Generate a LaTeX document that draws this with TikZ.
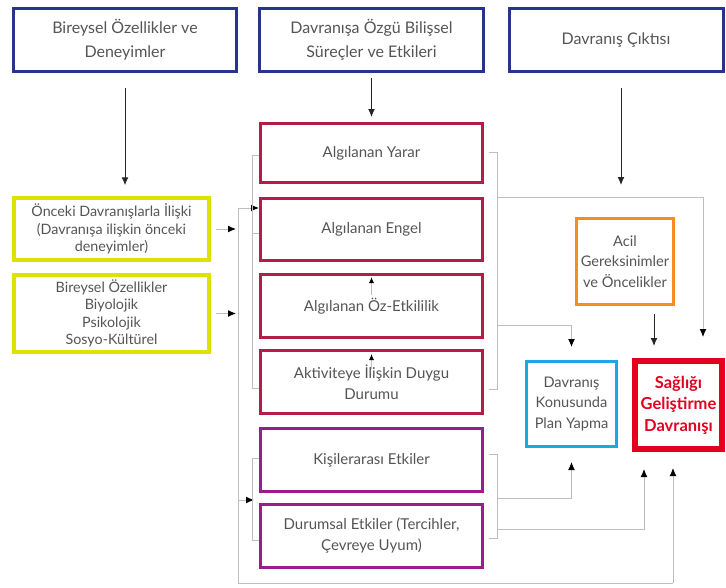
\documentclass[tikz,border=0pt]{standalone}
\usepackage{fontspec}
\setmainfont{Lato}
\usetikzlibrary{arrows.meta}
\definecolor{navy}{RGB}{40,52,140}
\definecolor{ylw}{RGB}{222,226,0}
\definecolor{crim}{RGB}{181,28,72}
\definecolor{purp}{RGB}{155,28,140}
\definecolor{orng}{RGB}{245,142,30}
\definecolor{lblue}{RGB}{30,165,230}
\definecolor{hred}{RGB}{226,0,30}
\definecolor{lgray}{RGB}{190,190,190}
\definecolor{txt}{RGB}{85,85,85}
\begin{document}
\begin{tikzpicture}[x=1pt,y=-1pt,
  box/.style={draw, rectangle, align=center, text=txt, inner sep=1pt},
  topbox/.style={box, draw=navy, line width=3pt, minimum height=63pt, font=\fontsize{16}{24}\selectfont},
  ybox/.style={box, draw=ylw, line width=3.5pt, minimum width=195pt, font=\fontsize{14.3}{17.5}\selectfont},
  rbox/.style={box, draw=crim, line width=3pt, minimum width=222pt, font=\fontsize{15}{21}\selectfont},
  pbox/.style={box, draw=purp, line width=3pt, minimum width=222pt, minimum height=63pt, font=\fontsize{15}{21}\selectfont},
  gline/.style={draw=lgray, line width=1pt},
  garr/.style={gline, -{Latex[length=8pt,width=7pt,color=black]}},
  sarr/.style={gline, -{Latex[length=6pt,width=5pt,color=black]}},
  barr/.style={draw=black!85, line width=1pt, -{Latex[length=8pt,width=7pt]}}]
\useasboundingbox (0,0) rectangle (726,587);
\fill[white] (0,0) rectangle (726,587);

% top boxes
\node[topbox, minimum width=223pt] (t1) at (125,40) {Bireysel Özellikler ve\\Deneyimler};
\node[topbox, minimum width=224pt] (t2) at (371.5,40) {Davranışa Özgü Bilişsel\\Süreçler ve Etkileri};
\node[topbox, minimum width=214pt] (t3) at (616,40) {Davranış Çıktısı};

% yellow boxes
\node[ybox, minimum height=62pt] (y1) at (111.5,229) {Önceki Davranışlarla İlişki\\(Davranışa ilişkin önceki\\deneyimler)};
\node[ybox, minimum height=77pt] (y2) at (111.5,313.5) {Bireysel Özellikler\\Biyolojik\\Psikolojik\\Sosyo-Kültürel};

% red boxes
\node[rbox, minimum height=59pt] (yarar) at (371.5,153) {Algılanan Yarar};
\node[rbox, minimum height=62pt] (engel) at (371.5,229.5) {Algılanan Engel};
\node[rbox, minimum height=63pt] (oz) at (371.5,306) {Algılanan Öz-Etkililik};
\node[rbox, minimum height=63pt] (akt) at (371.5,382) {Aktiviteye İlişkin Duygu\\Durumu};

% purple boxes
\node[pbox] (kis) at (371.5,460) {Kişilerarası Etkiler};
\node[pbox] (dur) at (371.5,536) {Durumsal Etkiler (Tercihler,\\Çevreye Uyum)};

% right boxes
\node[box, draw=orng, line width=3pt, minimum width=97pt, minimum height=86pt, font=\fontsize{14.6}{20.5}\selectfont] (acil) at (625,261.5) {Acil\\Gereksinimler\\ve Öncelikler};
\node[box, draw=lblue, line width=3pt, minimum width=90pt, minimum height=85pt, font=\fontsize{14.6}{20.5}\selectfont] (plan) at (571.5,404) {Davranış\\Konusunda\\Plan Yapma};
\node[box, draw=hred, line width=6pt, minimum width=87pt, minimum height=88pt, text=hred, inner sep=0pt, font=\bfseries\fontsize{16.5}{21.5}\selectfont] (sag) at (678.5,405) {Sağlığı\\Geliştirme\\Davranışı};

% top arrows
\draw[barr, shorten <=15pt, shorten >=11pt] (t1.south) -- (t1.south |- y1.north);
\draw[barr, shorten <=5pt, shorten >=5pt] (t2.south) -- (t2.south |- yarar.north);
\coordinate (t3a) at (621,73);
\coordinate (t3end) at (621,185);
\draw[barr, shorten <=15pt] (t3a) -- (t3end);

% yellow arrows into the left line
\coordinate (Lx) at (236,0);
\draw[garr, shorten <=5pt] (y1.east) -- (y1.east -| Lx);
\draw[garr, shorten <=5pt] (y2.east) -- (y2.east -| Lx);

% left loop
\coordinate (Ltop) at (238,208);
\coordinate (Lmid) at (238,500);
\coordinate (Lbot) at (238,583);
\coordinate (Rbot) at (673,583);
\coordinate (PLB) at (254,500);
\draw[gline] (Ltop) -- (Lbot) -- (Rbot);
\draw[garr, shorten >=16pt] (Rbot) -- (Rbot |- sag.south);
\draw[garr] (Ltop) -- (Ltop -| engel.west);
\draw[garr] (Lmid) -- (PLB);

% red bracket left
\coordinate (RLt) at (252,155);
\coordinate (RLm) at (252,233);
\coordinate (RLb) at (252,388);
\draw[gline] (yarar.west |- RLt) -- (RLt) -- (RLb) -- (akt.west |- RLb);
\draw[gline] (RLm) -- (engel.west |- RLm);

% red bracket right
\coordinate (RRta) at (489,152);
\coordinate (RRt) at (497,152);
\coordinate (RRb) at (497,389);
\coordinate (RRba) at (489,389);
\draw[gline] (RRta) -- (RRt) -- (RRb) -- (RRba);
\coordinate (RR1) at (497,197);
\coordinate (Rsag) at (703,337);
\draw[garr] (RR1) -| (Rsag);
\coordinate (RR2) at (497,325);
\draw[garr, shorten >=13pt] (RR2) -| (plan.north);

% acil arrow
\coordinate (acx) at (654,0);
\draw[barr, shorten <=8pt, shorten >=12pt] (acil.south -| acx) -- (sag.north -| acx);

% purple bracket right
\coordinate (PRta) at (489,454);
\coordinate (PRt) at (497,454);
\coordinate (PRb) at (497,538);
\coordinate (PRba) at (489,538);
\draw[gline] (PRta) -- (PRt) -- (PRb) -- (PRba);
\coordinate (PR1) at (497,498);
\draw[garr, shorten >=14pt] (PR1) -| (plan.south);
\coordinate (PR2) at (497,529);
\coordinate (sgx) at (644,0);
\draw[garr, shorten >=17pt] (PR2) -| (sag.south -| sgx);

% purple bracket left
\coordinate (PLt) at (252,458);
\coordinate (PLb) at (252,540);
\draw[gline] (kis.west |- PLt) -- (PLt) -- (PLb) -- (dur.west |- PLb);

% small upward arrows
\draw[sarr] ([yshift=-22pt]oz.north) -- ([yshift=-4pt]oz.north);
\draw[sarr] ([yshift=-20pt]akt.north) -- ([yshift=-5pt]akt.north);
\end{tikzpicture}
\end{document}
